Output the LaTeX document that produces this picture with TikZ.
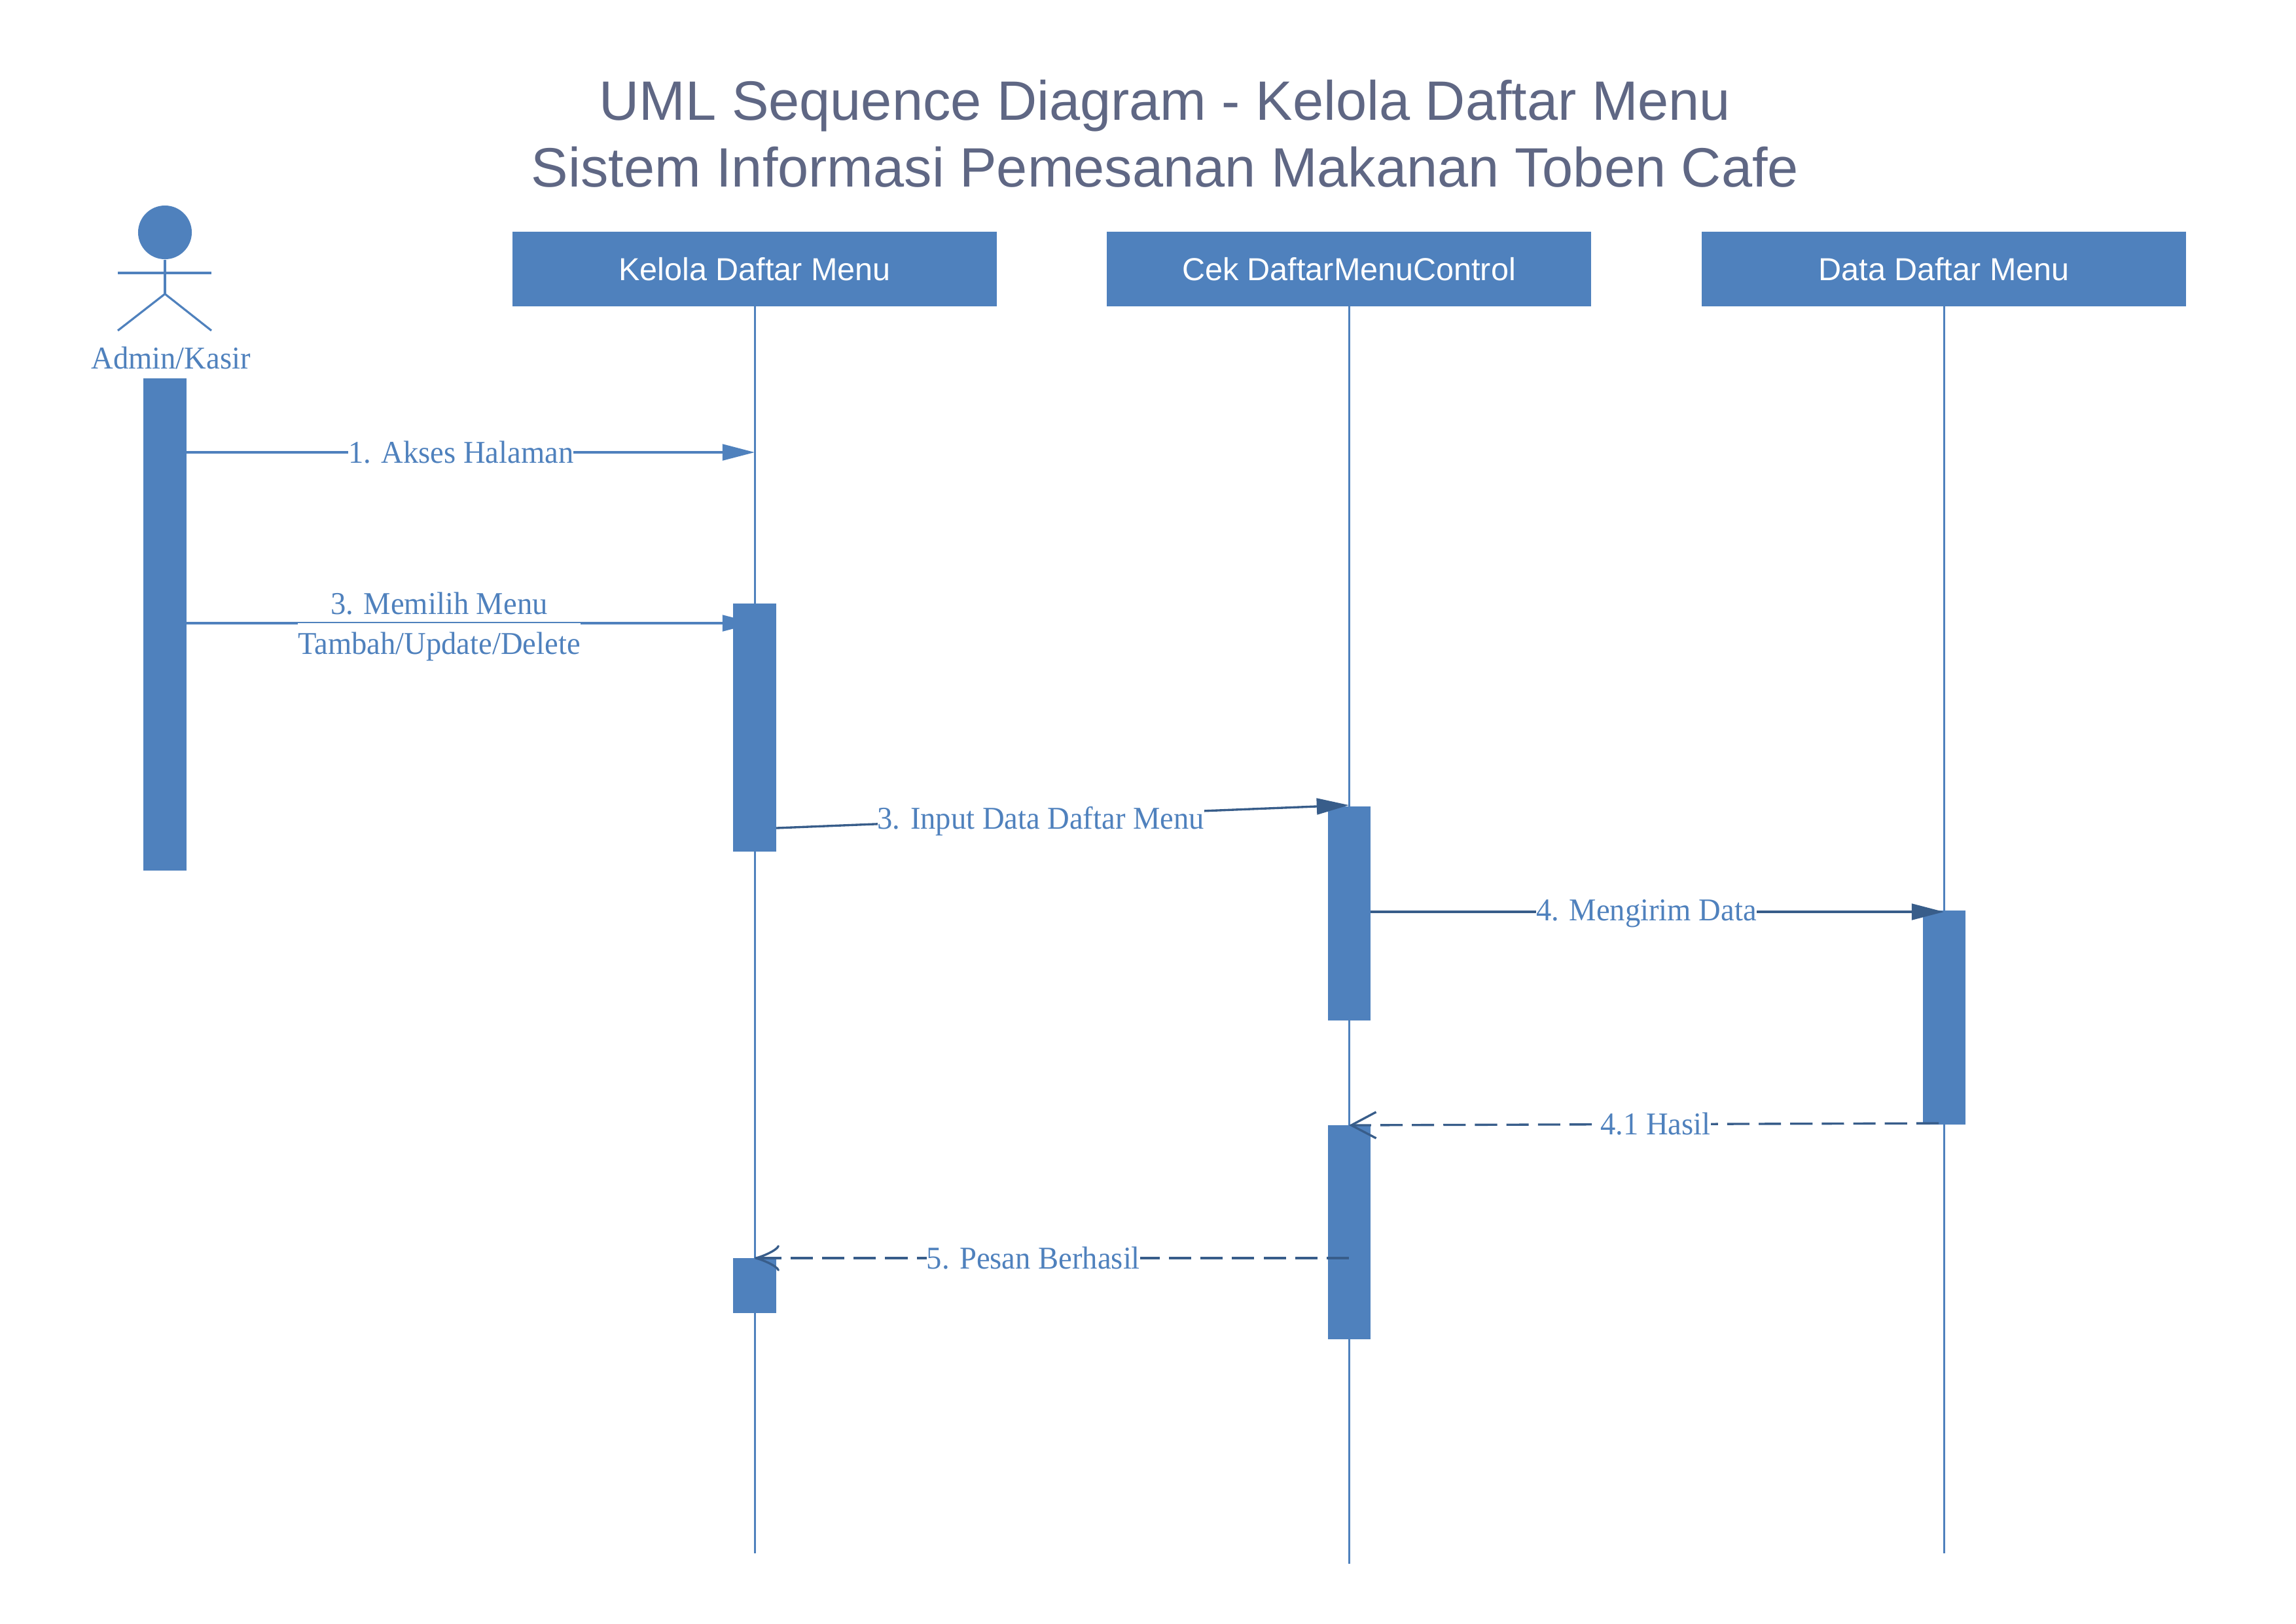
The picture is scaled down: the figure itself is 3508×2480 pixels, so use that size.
\documentclass[tikz,border=0pt]{standalone}
\usepackage{fontspec}
\setmainfont[FakeStretch=0.96]{Liberation Serif}
\setsansfont{Liberation Sans}
\usetikzlibrary{arrows.meta}
\definecolor{boxblue}{HTML}{4F81BD}
\definecolor{linedark}{HTML}{385D8A}
\definecolor{titlegray}{HTML}{5F6784}
\tikzset{
  x=0.01cm,y=-0.01cm,
  header/.style={fill=boxblue,draw=none,minimum width=7.4cm,minimum height=1.13cm,inner sep=0pt,text=white,font=\sffamily\fontsize{13.8}{16}\selectfont},
  activation/.style={fill=boxblue,draw=none,minimum width=0.65cm,inner sep=0pt,anchor=north},
  lifeline/.style={draw=boxblue,line width=0.85pt},
  actorline/.style={draw=boxblue,line width=0.9pt},
  msglight/.style={draw=boxblue,line width=0.95pt,-{Triangle[length=14pt,width=7pt,fill=boxblue]}},
  msgdark/.style={draw=linedark,line width=0.95pt,-{Triangle[length=14pt,width=7pt,fill=linedark]}},
  retmsg/.style={draw=linedark,line width=0.95pt,dash pattern=on 9.7pt off 4pt,-{Straight Barb[length=10.8pt,width=11.4pt,line width=0.95pt]}},
  retcurve/.style={draw=linedark,line width=0.95pt,dash pattern=on 9.7pt off 4pt,-{Classical TikZ Rightarrow[length=10.8pt,width=11.4pt,line width=0.95pt]}},
  msglabel/.style={fill=white,inner xsep=0pt,inner ysep=1pt,text=boxblue,font=\fontsize{13.8}{16}\selectfont},
  actorlabel/.style={inner sep=0pt,text=boxblue,font=\fontsize{13.8}{16}\selectfont},
}
\begin{document}
\begin{tikzpicture}
\useasboundingbox (0,0) rectangle (3508,2480);
\fill[white] (0,0) rectangle (3508,2480);

% title
\node[text=titlegray,align=center,inner sep=0pt,font=\sffamily\fontsize{24.1}{29}\selectfont] (title) at (1780,204)
  {UML Sequence Diagram - Kelola Daftar Menu\\Sistem Informasi Pemesanan Makanan Toben Cafe};

% actor
\node[circle,fill=boxblue,minimum size=0.82cm,inner sep=0pt] (head) at (252,355) {};
\coordinate (hip) at (252,449);
\coordinate (armL) at (180,417);
\coordinate (armR) at (323,417);
\coordinate (legL) at (180,505);
\coordinate (legR) at (323,505);
\draw[actorline] (head.south) -- (hip);
\draw[actorline] (armL) -- (armR);
\draw[actorline] (legL) -- (hip) -- (legR);
\node[actorlabel] (adminlabel) at (261,547) {Admin/Kasir};

% headers
\node[header] (h1) at (1153,411) {Kelola Daftar Menu};
\node[header] (h2) at (2061,411) {Cek DaftarMenuControl};
\node[header] (h3) at (2970,411) {Data Daftar Menu};

% lifelines
\coordinate (end1) at (1153,2373);
\coordinate (end2) at (2061,2389);
\coordinate (end3) at (2970,2373);
\draw[lifeline] (h1.south) -- (end1);
\draw[lifeline] (h2.south) -- (end2);
\draw[lifeline] (h3.south) -- (end3);

% admin activation
\node[activation,minimum height=7.52cm] (actA) at (252,577) {};

% messages under the activations of lane 1
\coordinate (m1y) at (0,691);
\coordinate (m2y) at (0,952);
\draw[msglight] (actA.east |- m1y) -- node[msglabel,pos=0.483] (l1) {1. Akses Halaman} (end1 |- m1y);
\draw[msglight] (actA.east |- m2y) -- (end1 |- m2y);
\node[msglabel,inner ysep=0pt] (l2a) at (671,922) {3. Memilih Menu};
\node[msglabel,inner ysep=0pt,minimum height=0.72cm] (l2b) at (671,988) {Tambah/Update/Delete};

% activations
\node[activation,minimum height=3.79cm] (a1a) at (1153,921) {};
\node[activation,minimum height=0.84cm] (a1b) at (1153,1921) {};
\node[activation,minimum height=3.27cm] (a2a) at (2061,1231) {};
\node[activation,minimum height=3.27cm] (a2b) at (2061,1718) {};
\node[activation,minimum height=3.27cm] (a3) at (2970,1390) {};

% messages on top of the activations
\coordinate (m3s) at (1186,1265);
\coordinate (m3e) at (2061,1230);
\draw[msgdark] (m3s) -- node[msglabel,pos=0.462,yshift=-0.06cm] (l3) {3. Input Data Daftar Menu} (m3e);
\coordinate (m4y) at (0,1393);
\draw[msgdark] (a2a.east |- m4y) -- node[msglabel,pos=0.481,yshift=-0.03cm] (l4) {4. Mengirim Data} (end3 |- m4y);
\coordinate (m41s) at (2962,1716);
\coordinate (m41e) at (2061,1719);
\draw[retmsg] (m41s) -- node[msglabel,pos=0.48] (l41) {4.1 Hasil} (m41e);
\coordinate (m5y) at (0,1922);
\draw[retcurve] (end2 |- m5y) -- node[msglabel,pos=0.531] (l5) {5. Pesan Berhasil} (end1 |- m5y);
\end{tikzpicture}
\end{document}
